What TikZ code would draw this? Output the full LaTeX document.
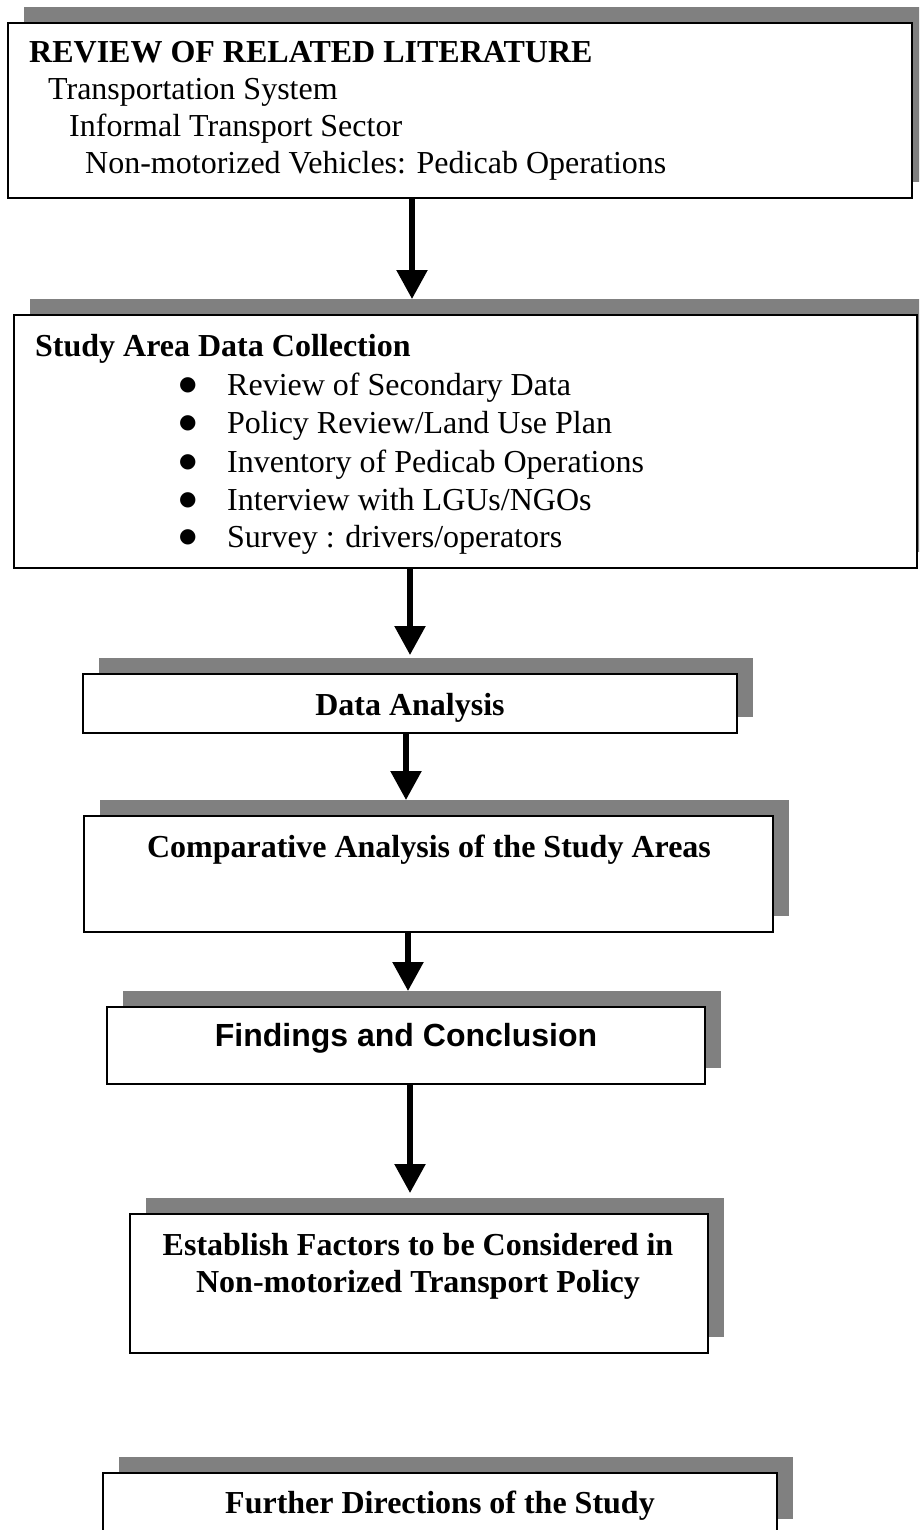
\documentclass[tikz,border=0pt]{standalone}
\usepackage{fontspec}
\setmainfont{Liberation Serif}
\newfontfamily\arialfont{Liberation Sans}
\newfontfamily\dejavu{DejaVu Sans}
\usetikzlibrary{arrows.meta}
\definecolor{shadowgray}{RGB}{128,128,128}
\newcommand{\bigbul}{\makebox[47pt][l]{\hspace*{-1pt}\raisebox{4.5pt}[0pt][0pt]{\dejavu\fontsize{20pt}{20pt}\selectfont ●}}}
\begin{document}
\begin{tikzpicture}[x=1pt, y=-1pt,
  font=\fontsize{32pt}{36.8pt}\selectfont,
  box/.style={rectangle, draw=black, line width=1.3pt, fill=white, inner sep=0pt, outer sep=0pt, anchor=north west},
  shadowbox/.style={rectangle, fill=shadowgray, draw=none, inner sep=0pt, outer sep=0pt, anchor=north west},
  txt/.style={inner sep=0pt, anchor=base west},
  ctxt/.style={inner sep=0pt, anchor=base},
  item/.style={txt},
  arr/.style={line width=5.5pt, -{Triangle[width=30pt,length=29pt]}}
]
\useasboundingbox (0,0) rectangle (919,1530);
\clip (0,0) rectangle (919,1530);

% shadows
\node[shadowbox, minimum width=904pt, minimum height=175pt] (s1) at (24,7) {};
\node[shadowbox, minimum width=903pt, minimum height=253pt] (s2) at (30,299) {};
\node[shadowbox, minimum width=654pt, minimum height=59pt] (s3) at (99,658) {};
\node[shadowbox, minimum width=689pt, minimum height=116pt] (s4) at (100,800) {};
\node[shadowbox, minimum width=598pt, minimum height=77pt] (s5) at (123,991) {};
\node[shadowbox, minimum width=578pt, minimum height=139pt] (s6) at (146,1198) {};
\node[shadowbox, minimum width=674pt, minimum height=62pt] (s7) at (119,1457) {};

% boxes
\node[box, minimum width=904pt, minimum height=175pt] (b1) at (8,23) {};
\node[box, minimum width=903pt, minimum height=253pt] (b2) at (14,315) {};
\node[box, minimum width=654pt, minimum height=59pt] (b3) at (83,674) {};
\node[box, minimum width=689pt, minimum height=116pt] (b4) at (84,816) {};
\node[box, minimum width=598pt, minimum height=77pt] (b5) at (107,1007) {};
\node[box, minimum width=578pt, minimum height=139pt] (b6) at (130,1214) {};
\node[box, minimum width=674pt, minimum height=62pt] (b7) at (103,1473) {};

% texts box 1
\node[txt] (t1a) at (29,63) {\bfseries REVIEW OF RELATED LITERATURE};
\node[txt] (t1b) at (48,100) {Transportation System};
\node[txt] (t1c) at (69,137) {Informal Transport Sector};
\node[txt] (t1d) at (85,174) {Non-motorized Vehicles: Pedicab Operations};

% texts box 2
\node[txt] (t2a) at (35,356) {\bfseries Study Area Data Collection};
\node[item] (t2b) at (180,395) {\bigbul Review of Secondary Data};
\node[item] (t2c) at (180,433) {\bigbul Policy Review/Land Use Plan};
\node[item] (t2d) at (180,472) {\bigbul Inventory of Pedicab Operations};
\node[item] (t2e) at (180,510) {\bigbul Interview with LGUs/NGOs};
\node[item] (t2f) at (180,547) {\bigbul Survey : drivers/operators};

% other texts
\node[ctxt] (t3) at (410,715) {\bfseries Data Analysis};
\node[ctxt] (t4) at (429,857) {\bfseries Comparative Analysis of the Study Areas};
\node[ctxt] (t5) at (406,1046) {\arialfont\bfseries Findings and Conclusion};
\node[ctxt] (t6a) at (418,1255) {\bfseries Establish Factors to be Considered in};
\node[ctxt] (t6b) at (418,1292) {\bfseries Non-motorized Transport Policy};
\node[ctxt] (t7) at (440,1513) {\bfseries Further Directions of the Study};

% arrow x positions
\coordinate (a1) at (412,0);
\coordinate (a2) at (410,0);
\coordinate (a3) at (406,0);
\coordinate (a4) at (408,0);
\coordinate (a5) at (410,0);

\draw[arr] (b1.south -| a1) -- (s2.north -| a1);
\draw[arr, shorten >=3pt] (b2.south -| a2) -- (s3.north -| a2);
\draw[arr] (b3.south -| a3) -- (s4.north -| a3);
\draw[arr] (b4.south -| a4) -- (s5.north -| a4);
\draw[arr, shorten >=5pt] (b5.south -| a5) -- (s6.north -| a5);
\end{tikzpicture}
\end{document}
